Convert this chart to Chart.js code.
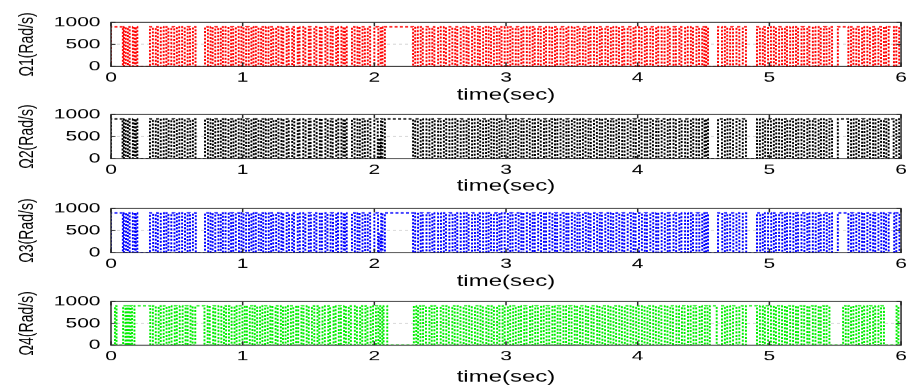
<!DOCTYPE html>
<html>
<head>
<meta charset="utf-8">
<script src="https://cdn.jsdelivr.net/npm/chart.js@4.4.1/dist/chart.umd.min.js"></script>
<style>
  html, body { margin: 0; padding: 0; background: #fff; width: 915px; height: 385px; overflow: hidden; }
  canvas { position: absolute; left: 0; transform: scaleX(1.5); transform-origin: 0 0; }
</style>
</head>
<body>
<canvas id="p1"></canvas>
<canvas id="p2"></canvas>
<canvas id="p3"></canvas>
<canvas id="p4"></canvas>
<script>
// Axis ticks
const timeTicks = [0, 1, 2, 3, 4, 5, 6];
const omegaTicks = [0, 500, 1000];
const omegaHigh = 900;                 // rotor speed when a motor is switched on (rad/s)

// Switching intervals of each rotor, [on, off] in milliseconds (optional third entry = level)
const omega1Pulses = [
  [0,90],[98,112],[128,142],[166,180],[188,200],
  [296,318],[340,356],[378,400],[420,436],[458,480],[500,518],[540,560],[582,600],[622,642],
  [714,736],[756,772],[792,814],[834,850],[870,892],[912,928],[948,970],[990,1006],[1026,1046],[1066,1082],
  [1100,1120],[1140,1156],[1176,1196],[1216,1232],[1254,1272],[1294,1308],[1334,1350],[1376,1390],[1418,1432],
  [1460,1476],[1502,1516],[1544,1560],[1586,1600],[1628,1644],[1668,1684],[1710,1724],[1750,1766],[1776,1790],
  [1830,1850],[1872,1888],[1910,1928],[1950,1968],
  [2000,2030],[2048,2062],[2080,2294],
  [2310,2330],[2352,2368],[2396,2418],[2440,2456],[2484,2504],[2528,2544],[2570,2592],[2614,2630],[2656,2678],
  [2700,2716],[2742,2762],[2786,2802],[2826,2848],[2868,2886],[2908,2930],[2950,2966],[2990,3012],[3032,3050],
  [3074,3094],[3116,3132],[3158,3180],[3202,3218],[3244,3264],[3288,3304],[3330,3350],[3372,3388],[3414,3436],
  [3458,3474],[3500,3520],[3542,3560],[3584,3604],[3626,3642],[3668,3690],[3712,3728],[3754,3774],[3796,3814],
  [3838,3858],[3882,3898],[3924,3946],[3968,3984],[4010,4030],[4054,4070],[4096,4116],[4140,4156],[4182,4204],
  [4228,4244],[4272,4290],[4316,4332],[4360,4380],[4404,4420],[4446,4466],[4490,4506],[4520,4534],
  [4610,4640],[4662,4680],[4702,4724],[4750,4772],[4798,4822],
  [4906,4928],[4950,4966],[4990,5012],[5034,5050],[5074,5096],[5118,5134],[5158,5180],[5202,5218],[5244,5264],
  [5288,5304],[5330,5350],[5374,5390],[5414,5434],[5456,5476],
  [5520,5600],[5620,5638],[5660,5680],[5704,5720],[5744,5764],[5788,5804],[5828,5848],[5870,5886],
  [5906,5946],[5964,5986]
];

const omega2Pulses = [
  [0,88],[98,112],[128,142],[166,180],[188,200],
  [296,318],[340,358],[378,400],[420,438],[458,480],[500,520],[540,560],[582,602],[622,642],
  [714,736],[756,774],[792,814],[834,852],[870,892],[912,930],[948,970],[990,1008],[1026,1046],[1066,1084],
  [1100,1120],[1140,1158],[1176,1196],[1216,1234],[1254,1272],[1294,1310],[1334,1350],[1376,1392],[1418,1432],
  [1460,1478],[1502,1516],[1544,1562],[1586,1600],[1628,1646],[1668,1684],[1710,1726],[1750,1766],[1776,1790],
  [1830,1850],[1872,1890],[1910,1928],[1950,1970],
  [2000,2026],[2032,2046,450],[2050,2062],[2080,2294],
  [2310,2330],[2352,2370],[2396,2418],[2440,2458],[2484,2504],[2528,2546],[2570,2592],[2614,2632],[2656,2678],
  [2700,2718],[2742,2762],[2786,2804],[2826,2848],[2868,2888],[2908,2930],[2950,2968],[2990,3012],[3032,3052],
  [3074,3094],[3116,3134],[3158,3180],[3202,3220],[3244,3264],[3288,3306],[3330,3350],[3372,3390],[3414,3436],
  [3458,3476],[3500,3520],[3542,3562],[3584,3604],[3626,3644],[3668,3690],[3712,3730],[3754,3774],[3796,3816],
  [3838,3858],[3882,3900],[3924,3946],[3968,3986],[4010,4030],[4054,4072],[4096,4116],[4140,4158],[4182,4204],
  [4228,4246],[4272,4290],[4316,4334],[4360,4380],[4404,4422],[4446,4466],[4490,4508],[4520,4534],
  [4610,4640],[4662,4682],[4702,4724],[4750,4774],[4798,4822],
  [4906,4928],[4950,4968],[4990,5012],[5034,5052],[5074,5096],[5118,5136],[5158,5180],[5202,5220],[5244,5264],
  [5288,5306],[5330,5350],[5374,5392],[5414,5434],[5456,5476],
  [5520,5598],[5620,5640],[5660,5680],[5704,5722],[5744,5764],[5788,5806],[5828,5848],[5870,5888],
  [5906,5944],[5964,5986]
];

const omega3Pulses = [
  [0,90],[98,114],[128,142],[166,182],[188,200],
  [296,320],[340,356],[378,402],[420,436],[458,482],[500,518],[540,562],[582,600],[622,644],
  [714,738],[756,772],[792,816],[834,850],[870,894],[912,928],[948,972],[990,1006],[1026,1048],[1066,1082],
  [1100,1122],[1140,1156],[1176,1198],[1216,1232],[1254,1274],[1294,1308],[1334,1352],[1376,1390],[1418,1434],
  [1460,1476],[1502,1518],[1544,1560],[1586,1602],[1628,1644],[1668,1686],[1710,1724],[1750,1768],[1776,1790],
  [1830,1852],[1872,1888],[1910,1930],[1950,1968],
  [2000,2028],[2034,2048,430],[2052,2062],[2080,2294],
  [2310,2332],[2352,2368],[2396,2420],[2440,2456],[2484,2506],[2528,2544],[2570,2594],[2614,2630],[2656,2680],
  [2700,2716],[2742,2764],[2786,2802],[2826,2850],[2868,2886],[2908,2932],[2950,2966],[2990,3014],[3032,3050],
  [3074,3096],[3116,3132],[3158,3182],[3202,3218],[3244,3266],[3288,3304],[3330,3352],[3372,3388],[3414,3438],
  [3458,3474],[3500,3522],[3542,3560],[3584,3606],[3626,3642],[3668,3692],[3712,3728],[3754,3776],[3796,3814],
  [3838,3860],[3882,3898],[3924,3948],[3968,3984],[4010,4032],[4054,4070],[4096,4118],[4140,4156],[4182,4206],
  [4228,4244],[4272,4292],[4316,4332],[4360,4382],[4404,4420],[4446,4468],[4490,4506],[4520,4534],
  [4610,4642],[4662,4680],[4702,4726],[4750,4772],[4798,4824],
  [4906,4930],[4950,4966],[4990,5014],[5034,5050],[5074,5098],[5118,5134],[5158,5182],[5202,5218],[5244,5266],
  [5288,5304],[5330,5352],[5374,5390],[5414,5436],[5456,5476],
  [5520,5600],[5620,5638],[5660,5682],[5704,5720],[5744,5766],[5788,5804],[5828,5850],[5870,5886],
  [5906,5948],[5964,5988]
];

const omega4Pulses = [
  [30,42],[92,110],[122,135],[148,160],[178,298],
  [318,340],[362,378],[400,422],[442,460],[484,500],[522,544],[566,582],[604,620],[640,710],
  [734,750],[776,792],[816,838],[858,874],[896,916],[938,954],[976,998],[1016,1032],[1054,1074],[1092,1110],
  [1132,1150],[1170,1190],[1210,1226],[1250,1266],[1290,1306],[1326,1344],[1366,1384],[1406,1422],[1446,1462],
  [1486,1502],[1526,1544],[1568,1582],[1606,1624],[1650,1664],[1690,1706],[1730,1746],[1770,1784],
  [1806,1822],[1852,1868],[1892,1908],[1932,1948],[1972,1990],[2012,2030],[2044,2060],[2070,2098],
  [2300,2318],[2332,2350],[2370,2392],[2418,2436],[2456,2476],[2504,2524],[2546,2566],[2592,2610],[2632,2654],
  [2678,2698],[2720,2740],[2764,2784],[2806,2824],[2850,2868],[2890,2908],[2932,2950],[2974,2990],[3014,3032],
  [3054,3074],[3096,3114],[3138,3156],[3182,3200],[3222,3242],[3266,3286],[3308,3328],[3352,3370],[3392,3412],
  [3436,3456],[3478,3498],[3522,3540],[3562,3582],[3606,3624],[3648,3666],[3692,3710],[3732,3752],[3776,3794],
  [3816,3836],[3860,3880],[3902,3922],[3946,3966],[3988,4008],[4032,4052],[4074,4094],[4118,4138],[4160,4180],
  [4206,4226],[4248,4268],[4294,4314],[4336,4356],[4382,4402],[4424,4444],[4470,4488],[4510,4530],
  [4548,4600],[4640,4662],[4680,4702],[4724,4750],[4772,4798],[4822,4906],
  [4928,4950],[4966,4990],[5012,5034],[5050,5074],[5096,5118],[5134,5158],[5180,5202],[5218,5244],[5264,5288],
  [5304,5330],[5350,5374],[5390,5414],[5434,5456],
  [5560,5580],[5600,5620],[5638,5660],[5680,5704],[5720,5744],[5764,5788],[5804,5828],[5848,5870],
  [5966,5980]
];

const seriesPulses = [omega1Pulses, omega2Pulses, omega3Pulses, omega4Pulses];
const seriesTitles = ['\u03A91(Rad/s)', '\u03A92(Rad/s)', '\u03A93(Rad/s)', '\u03A94(Rad/s)'];
const seriesColors = ['#ff0000', '#000000', '#0000ff', '#00ee00'];
const timeTitle = 'time(sec)';

// Page layout: [plot top, plot bottom, x-title centre] in page pixels
const panelBoxes = [[18.5, 66, 94.5], [111, 158.5, 186], [204.5, 252, 281], [298, 345, 377]];
const CW = 610;              // canvas width before the 1.5x horizontal widening
const PLOT_L = 74, PLOT_R = 600.7;
const PAD_TOP = 12;
const FONT = "'Liberation Sans', Arial, Helvetica, sans-serif";
const TITLE_SIZE = 16, TICK_SIZE = 14;

// Turn on/off intervals into a square-wave polyline
function pulsesToPoints(pulses, high) {
  const pts = [{ x: 0, y: 0 }];
  for (const p of pulses) {
    const on = p[0] / 1000, off = p[1] / 1000;
    const lvl = p.length > 2 ? p[2] : high;
    pts.push({ x: on, y: 0 }, { x: on, y: lvl }, { x: off, y: lvl }, { x: off, y: 0 });
  }
  pts.push({ x: 6, y: 0 });
  return pts;
}

// Axes box with MATLAB-style inward ticks
const boxPlugin = {
  id: 'axesBox',
  afterDatasetsDraw(chart) {
    const { ctx, chartArea: { left, top, right, bottom }, scales: { x, y } } = chart;
    ctx.save();
    ctx.strokeStyle = '#2a2a2a';
    ctx.lineWidth = 1;
    ctx.strokeRect(left, top, right - left, bottom - top);
    ctx.beginPath();
    for (const v of timeTicks) {
      const px = x.getPixelForValue(v);
      ctx.moveTo(px, top); ctx.lineTo(px, top + 4);
      ctx.moveTo(px, bottom); ctx.lineTo(px, bottom - 4);
    }
    for (const v of omegaTicks) {
      const py = y.getPixelForValue(v);
      ctx.moveTo(left, py); ctx.lineTo(left + 3, py);
      ctx.moveTo(right, py); ctx.lineTo(right - 3, py);
    }
    ctx.stroke();
    ctx.restore();
  }
};

seriesPulses.forEach((pulses, i) => {
  const [plotTop, plotBottom, titleY] = panelBoxes[i];
  const canvas = document.getElementById('p' + (i + 1));
  const canvasTop = plotTop - PAD_TOP;
  const canvasH = Math.ceil(titleY - canvasTop + 12);
  const titleHalf = TITLE_SIZE * 1.2 / 2;
  const padBottom = canvasH - (titleY - canvasTop) - titleHalf;
  const xAxisH = canvasH - PAD_TOP - (plotBottom - plotTop) - padBottom;
  canvas.width = CW;
  canvas.height = canvasH;
  canvas.style.top = canvasTop + 'px';

  new Chart(canvas, {
    type: 'line',
    data: {
      datasets: [{
        data: pulsesToPoints(pulses, omegaHigh),
        borderColor: seriesColors[i],
        borderWidth: 1.3,
        borderDash: [2, 1.5],
        pointRadius: 0,
        fill: false,
        tension: 0
      }]
    },
    options: {
      responsive: false,
      animation: false,
      devicePixelRatio: 1.5,
      events: [],
      layout: { padding: { top: PAD_TOP, right: CW - PLOT_R, bottom: padBottom, left: 0 } },
      plugins: { legend: { display: false }, tooltip: { enabled: false } },
      scales: {
        x: {
          type: 'linear', min: 0, max: 6,
          afterBuildTicks(s) { s.ticks = timeTicks.map(v => ({ value: v })); },
          afterFit(s) { s.height = xAxisH; },
          ticks: { font: { family: FONT, size: TICK_SIZE }, color: '#000', padding: 3, maxRotation: 0, autoSkip: false,
                   callback: v => String(v) },
          grid: { display: false, drawTicks: false },
          border: { display: false },
          title: { display: true, text: timeTitle, color: '#000', font: { family: FONT, size: TITLE_SIZE }, padding: 0 }
        },
        y: {
          type: 'linear', min: 0, max: 1000,
          afterBuildTicks(s) { s.ticks = omegaTicks.map(v => ({ value: v })); },
          afterFit(s) { s.width = PLOT_L; },
          ticks: { font: { family: FONT, size: TICK_SIZE }, color: '#000', padding: 7, callback: v => String(v) },
          grid: {
            drawTicks: false,
            lineWidth: 1,
            color: c => (c.tick && c.tick.value === 500) ? '#cfcfcf' : 'rgba(0,0,0,0)'
          },
          border: { display: false, dash: [2, 2] },
          title: { display: true, text: seriesTitles[i], color: '#000', font: { family: FONT, size: TICK_SIZE }, padding: { top: 10, bottom: 0 } }
        }
      }
    },
    plugins: [boxPlugin]
  });
});
</script>
</body>
</html>
